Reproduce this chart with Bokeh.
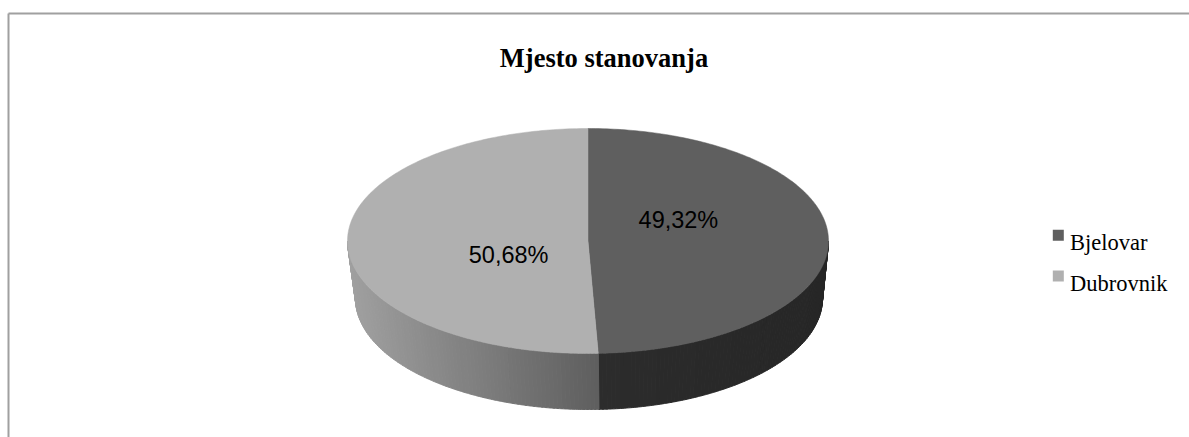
import numpy as np
from bokeh.plotting import figure
from bokeh.models import Range1d
from bokeh.core.properties import value
from bokeh.embed import file_html
from bokeh.resources import INLINE

# ---- data ----
title_text = "Mjesto stanovanja"
categories = ["Bjelovar", "Dubrovnik"]
shares = [49.32, 50.68]
labels = ["49,32%", "50,68%"]
top_colors = ["#5f5f5f", "#b0b0b0"]

# ---- layout ----
W, H = 1189, 437
p = figure(width=W, height=H, x_range=Range1d(0, W), y_range=Range1d(H, 0),
           output_backend="svg", toolbar_location=None, x_axis_type=None, y_axis_type=None,
           min_border=0, outline_line_color=None)
p.background_fill_color = "white"
p.border_fill_color = "white"

# chart area border (left and top visible)
p.line(x=[8, 8], y=[13, H], line_color="#a0a0a0", line_width=2)
p.line(x=[8, W], y=[13, 13], line_color="#a0a0a0", line_width=2)

# pie geometry (screen-like coordinates: y grows downward)
CX, CY, RX, RY = 587.5, 240.5, 240.5, 112.5
BCX, BCY, BRX, BRY = 588.5, 298.0, 233.5, 111.0


def top_pt(th):
    return CX + RX * np.sin(th), CY - RY * np.cos(th)


def bot_pt(th):
    return BCX + BRX * np.sin(th), BCY - BRY * np.cos(th)


total = sum(shares)
ends = np.cumsum(shares) / total * 2 * np.pi
starts = np.concatenate([[0.0], ends[:-1]])


def lerp_hex(c0, c1, t):
    a = [int(c0[i:i + 2], 16) for i in (1, 3, 5)]
    b = [int(c1[i:i + 2], 16) for i in (1, 3, 5)]
    c = [round(a[k] + (b[k] - a[k]) * t) for k in range(3)]
    return "#%02x%02x%02x" % tuple(c)


# side faces (front half only)
xs_side, ys_side, cols_side = [], [], []
xdiv = top_pt(starts[1])[0]
for i, (a, b) in enumerate(zip(starts, ends)):
    lo, hi = max(a, np.pi / 2), min(b, 3 * np.pi / 2)
    if hi <= lo:
        continue
    n = max(2, int(np.degrees(hi - lo) / 1.0))
    edges = np.linspace(lo, hi, n + 1)
    for t0, t1 in zip(edges[:-1], edges[1:]):
        th = np.linspace(t0, t1, 4)
        tx, ty = top_pt(th)
        bx, by = bot_pt(th[::-1])
        xs_side.append(list(tx) + list(bx))
        ys_side.append(list(ty) + list(by))
        xm = top_pt((t0 + t1) / 2)[0]
        if i == 0:
            t = (xm - xdiv) / (CX + RX - xdiv)
            cols_side.append(lerp_hex("#2c2c2c", "#262626", min(max(t, 0), 1)))
        else:
            t = (xm - (CX - RX)) / (xdiv - (CX - RX))
            cols_side.append(lerp_hex("#a0a0a0", "#5e5e5e", min(max(t, 0), 1)))

p.patches(xs=xs_side, ys=ys_side, fill_color=cols_side, line_color=cols_side, line_width=1)

# top faces
xs_top, ys_top = [], []
for a, b in zip(starts, ends):
    th = np.linspace(a, b, 200)
    tx, ty = top_pt(th)
    xs_top.append([CX] + list(tx))
    ys_top.append([CY] + list(ty))
p.patches(xs=xs_top, ys=ys_top, fill_color=top_colors, line_color=top_colors, line_width=0.5)

# data labels
mids = (starts + ends) / 2
label_r = [0.376, 0.33]
label_dy = [-20.0, 13.0]
lx = [CX + label_r[k] * RX * np.sin(mids[k]) for k in range(2)]
ly = [CY - label_r[k] * RY * np.cos(mids[k]) + label_dy[k] for k in range(2)]
p.text(x=lx, y=ly, text=labels, text_font=value("Liberation Sans"), text_font_size="23.5px",
       text_align="center", text_baseline="middle", text_color="#000000")

# title
p.text(x=[603.5], y=[57], text=[title_text], text_font=value("Liberation Serif"),
       text_font_size="26.5px", text_font_style="bold", text_align="center",
       text_baseline="alphabetic", text_color="#000000")

# legend
leg_y0, leg_dy = 234.7, 40.8
sq_y = [leg_y0 + k * leg_dy for k in range(len(categories))]
p.scatter(x=[1057.8] * len(categories), y=sq_y, marker="square", size=11,
          fill_color=top_colors, line_color=None)
p.text(x=[1069.5] * len(categories), y=[y + 7.2 for y in sq_y], text=categories,
       text_font=value("Liberation Serif"), text_font_size="22.5px", text_align="left",
       text_baseline="alphabetic", text_color="#000000")

open("out.html", "w").write(file_html(p, INLINE))
